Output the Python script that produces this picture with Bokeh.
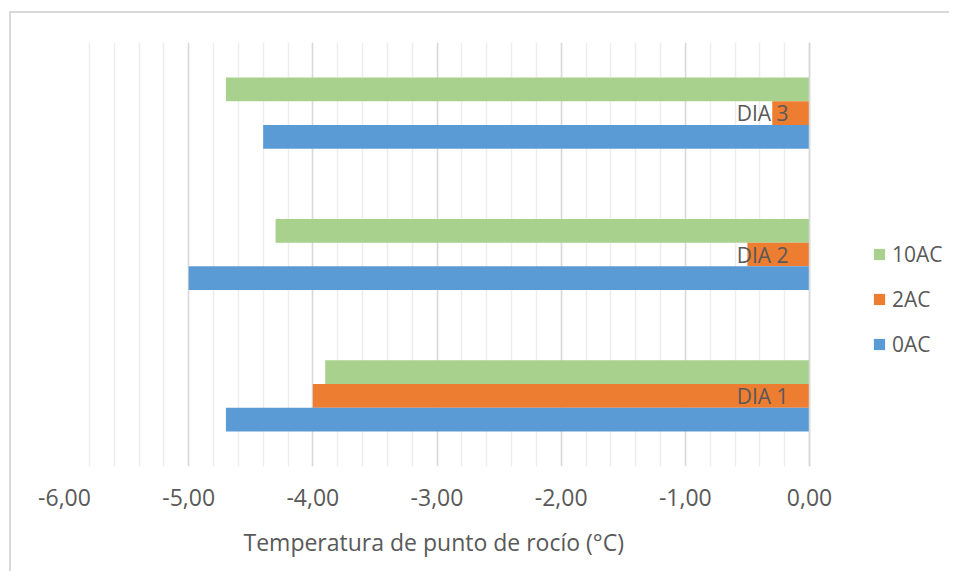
from bokeh.plotting import figure
from bokeh.models import (FactorRange, Range1d, FixedTicker, Legend, LegendItem,
                          ColumnDataSource, Span, Title)
from bokeh.transform import dodge
from bokeh.core.properties import value
from bokeh.embed import file_html
from bokeh.resources import INLINE

# ---- data ----
dias = ["DIA 1", "DIA 2", "DIA 3"]
ac0 = [-4.7, -5.0, -4.4]
ac2 = [-4.0, -0.5, -0.3]
ac10 = [-3.9, -4.3, -4.7]
series_names = ["10AC", "2AC", "0AC"]
x_ticks = [-6, -5, -4, -3, -2, -1, 0]
x_tick_labels = ["-6,00", "-5,00", "-4,00", "-3,00", "-2,00", "-1,00", "0,00"]
x_title = "Temperatura de punto de rocío (°C)"
label_x = [0.0, 0.0, 0.0]

FONT = "Open Sans"
TXT = "#595959"
C0, C2, C10 = "#5B9BD5", "#ED7D31", "#A9D18E"

W, H = 940, 560
LEFT, TOP, BOTTOM = 53, 29, 107
PLOT_W = 745            # pixel width of the -6..0 data area
frame_w = W - LEFT      # frame extends to the right edge to host the legend
x_end = 6 * frame_w / PLOT_W - 6

src = ColumnDataSource(dict(dia=dias, ac0=ac0, ac2=ac2, ac10=ac10, lx=label_x))

p = figure(width=W, height=H, output_backend="svg", toolbar_location=None,
           y_range=FactorRange(*dias), x_range=Range1d(-6, x_end),
           min_border_left=LEFT, min_border_right=0, min_border_top=TOP,
           min_border_bottom=BOTTOM, y_axis_location=None)
p.outline_line_color = None
p.background_fill_color = "white"
p.border_fill_color = "white"

bh = 0.168
r10 = p.hbar(y=dodge("dia", bh, range=p.y_range), left="ac10", right=0, height=bh,
             source=src, color=C10, line_color=None)
r2 = p.hbar(y=dodge("dia", 0, range=p.y_range), left="ac2", right=0, height=bh,
            source=src, color=C2, line_color=None)
r0 = p.hbar(y=dodge("dia", -bh, range=p.y_range), left="ac0", right=0, height=bh,
            source=src, color=C0, line_color=None)

p.text(x="lx", y="dia", text="dia", source=src, text_align="right",
       text_baseline="middle", x_offset=-21, text_font=value(FONT),
       text_font_size="21px", text_color=TXT)

p.add_layout(Span(location=0, dimension="height", line_color="#d9d9d9", line_width=1.5))

minor = [t / 5 for t in range(-30, 1)]
p.xaxis.ticker = FixedTicker(ticks=x_ticks, minor_ticks=minor)
p.xaxis.major_label_overrides = {t: l for t, l in zip(x_ticks, x_tick_labels)}
p.xaxis.axis_line_color = None
p.xaxis.major_tick_line_color = None
p.xaxis.minor_tick_line_color = None
p.xaxis.major_label_text_font = FONT
p.xaxis.major_label_text_font_size = "23px"
p.xaxis.major_label_text_color = TXT
p.xaxis.major_label_standoff = 16

p.add_layout(Title(text=x_title, align="left", offset=179, text_font=FONT,
                   text_font_size="23px", text_font_style="normal",
                   text_color=TXT, standoff=30), "below")

p.xgrid.grid_line_color = "#d9d9d9"
p.xgrid.grid_line_width = 1.5
p.xgrid.minor_grid_line_color = "#ededed"
p.xgrid.minor_grid_line_width = 1.5
p.ygrid.grid_line_color = None

legend = Legend(items=[LegendItem(label=series_names[0], renderers=[r10]),
                       LegendItem(label=series_names[1], renderers=[r2]),
                       LegendItem(label=series_names[2], renderers=[r0])],
                location=(PLOT_W + 63, 108), orientation="vertical")
legend.glyph_width = 14
legend.glyph_height = 14
legend.label_standoff = 6
legend.spacing = 17
legend.padding = 0
legend.margin = 0
legend.border_line_color = None
legend.background_fill_alpha = 0
legend.label_text_font = FONT
legend.label_text_font_size = "21px"
legend.label_text_color = TXT
p.add_layout(legend, "center")

p.styles = {"margin-left": "9px", "margin-top": "11px",
            "border-top": "2px solid #d9d9d9", "border-left": "2px solid #d9d9d9"}

open("out.html", "w").write(file_html(p, INLINE))
